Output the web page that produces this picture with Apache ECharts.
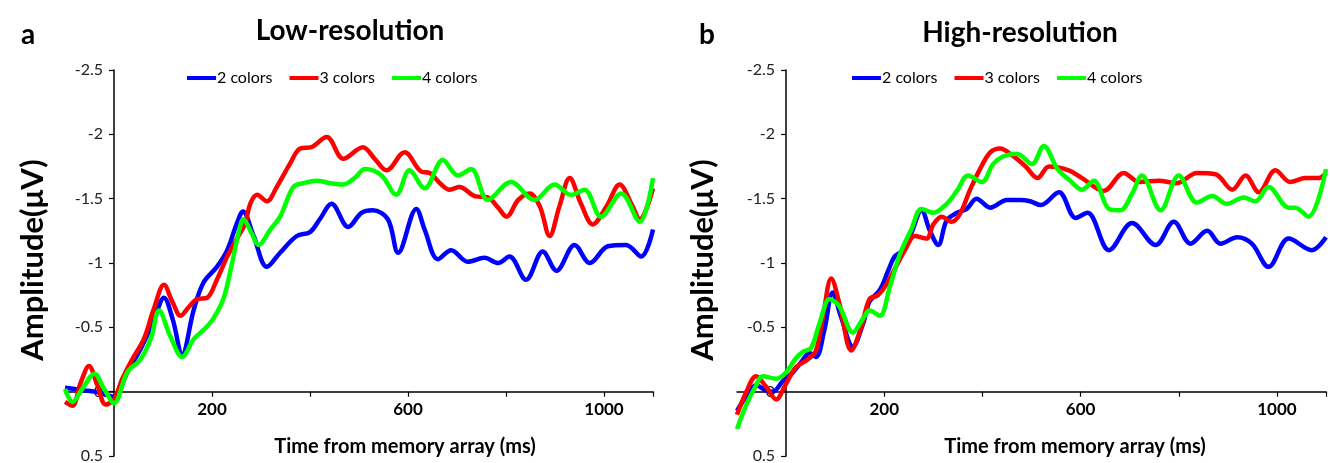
<!DOCTYPE html>
<html>
<head>
<meta charset="utf-8">
<script src="https://cdn.jsdelivr.net/npm/echarts@6/dist/echarts.min.js"></script>
<style>
  html, body { margin: 0; padding: 0; background: #fff; }
  #chart { width: 1330px; height: 463px; }
</style>
</head>
<body>
<div id="chart"></div>
<script>
// Condition names and line colours
const seriesNames = ['2 colors', '3 colors', '4 colors'];
const seriesColors = ['#0000ff', '#ff0000', '#00ff00'];

// Axis ranges and ticks
const timeRange = [-100, 1100];
const ampRange = [-2.5, 0.5];
const ampStep = 0.5;
const ampLabels = [-2.5, -2, -1.5, -1, -0.5, 0, 0.5];
const xTickValues = [200, 400, 600, 800, 1000, 1100];
const xLabelValues = [200, 600, 1000];

// Panel a: low-resolution, [time (ms), amplitude (µV)]
const lowTwo = [[-100,-0.03],[-80,-0.02],[-60,-0.01],[-40,0.0],[-20,0.02],[0,0.04],[27,-0.15],[54,-0.33],[80,-0.54],[102,-0.73],[120,-0.56],[139,-0.29],[163,-0.64],[183,-0.85],[210,-0.97],[231,-1.1],[251,-1.31],[263,-1.40],[285,-1.21],[312,-0.97],[339,-1.08],[373,-1.21],[400,-1.24],[420,-1.34],[444,-1.46],[478,-1.28],[505,-1.39],[528,-1.41],[559,-1.34],[580,-1.08],[617,-1.42],[634,-1.26],[661,-1.03],[688,-1.10],[722,-1.01],[756,-1.04],[784,-1.00],[807,-1.05],[841,-0.87],[875,-1.09],[903,-0.94],[940,-1.14],[971,-1.00],[1008,-1.13],[1045,-1.14],[1076,-1.05],[1100,-1.26]];
const lowThree = [[-100,0.08],[-85,0.11],[-68,-0.07],[-51,-0.20],[-34,-0.05],[-17,0.10],[0,0.06],[17,-0.10],[37,-0.25],[61,-0.41],[81,-0.64],[102,-0.83],[119,-0.70],[136,-0.59],[153,-0.66],[170,-0.72],[190,-0.73],[210,-0.87],[231,-1.05],[251,-1.19],[268,-1.31],[278,-1.46],[292,-1.53],[312,-1.48],[332,-1.59],[359,-1.77],[380,-1.89],[403,-1.90],[434,-1.98],[468,-1.81],[508,-1.90],[532,-1.81],[556,-1.72],[593,-1.86],[627,-1.71],[644,-1.70],[668,-1.61],[685,-1.57],[705,-1.59],[736,-1.52],[763,-1.51],[784,-1.43],[801,-1.36],[825,-1.49],[848,-1.54],[869,-1.44],[889,-1.21],[909,-1.44],[930,-1.66],[953,-1.46],[977,-1.30],[1005,-1.44],[1032,-1.61],[1056,-1.46],[1073,-1.34],[1100,-1.58]];
const lowFour = [[-100,-0.02],[-85,0.08],[-65,-0.02],[-40,-0.14],[-20,-0.02],[0,0.09],[27,-0.15],[54,-0.25],[75,-0.41],[92,-0.63],[115,-0.43],[139,-0.27],[163,-0.41],[183,-0.48],[203,-0.57],[224,-0.73],[241,-1.00],[254,-1.23],[264,-1.34],[281,-1.23],[295,-1.14],[319,-1.26],[339,-1.36],[366,-1.59],[386,-1.62],[414,-1.64],[441,-1.62],[468,-1.61],[491,-1.66],[512,-1.73],[546,-1.68],[576,-1.53],[603,-1.72],[634,-1.58],[671,-1.80],[702,-1.68],[729,-1.73],[763,-1.49],[810,-1.63],[858,-1.49],[899,-1.61],[933,-1.53],[960,-1.57],[994,-1.36],[1035,-1.54],[1073,-1.32],[1100,-1.66]];

// Panel b: high-resolution, [time (ms), amplitude (µV)]
const highTwo = [[-100,0.15],[-82,0.04],[-61,-0.05],[-41,-0.01],[-27,0.0],[-7,-0.08],[14,-0.15],[31,-0.23],[48,-0.30],[61,-0.27],[78,-0.48],[95,-0.77],[112,-0.58],[136,-0.35],[157,-0.53],[170,-0.70],[191,-0.79],[208,-0.94],[221,-1.05],[238,-1.10],[255,-1.23],[276,-1.41],[293,-1.25],[310,-1.14],[327,-1.33],[348,-1.39],[368,-1.42],[388,-1.50],[416,-1.43],[450,-1.49],[477,-1.49],[497,-1.48],[519,-1.45],[556,-1.55],[590,-1.35],[614,-1.39],[658,-1.10],[705,-1.31],[753,-1.14],[790,-1.32],[824,-1.15],[858,-1.25],[885,-1.15],[919,-1.20],[949,-1.15],[983,-0.97],[1024,-1.19],[1071,-1.10],[1100,-1.20]];
const highThree = [[-100,0.18],[-82,0.01],[-61,-0.12],[-41,-0.04],[-20,0.06],[-3,-0.04],[20,-0.19],[44,-0.25],[61,-0.32],[75,-0.58],[92,-0.88],[109,-0.68],[133,-0.32],[153,-0.50],[170,-0.72],[187,-0.75],[204,-0.83],[225,-0.98],[245,-1.12],[262,-1.21],[286,-1.19],[300,-1.30],[317,-1.36],[337,-1.32],[354,-1.38],[375,-1.57],[395,-1.73],[416,-1.86],[436,-1.89],[463,-1.83],[488,-1.75],[512,-1.66],[536,-1.75],[576,-1.72],[603,-1.66],[647,-1.56],[688,-1.70],[719,-1.63],[759,-1.64],[796,-1.62],[837,-1.70],[875,-1.69],[909,-1.57],[936,-1.68],[963,-1.55],[997,-1.72],[1027,-1.63],[1058,-1.66],[1085,-1.66],[1100,-1.70]];
const highFour = [[-100,0.29],[-82,0.11],[-61,-0.05],[-48,-0.12],[-20,-0.10],[0,-0.15],[20,-0.26],[34,-0.31],[51,-0.34],[68,-0.53],[89,-0.72],[109,-0.66],[136,-0.46],[157,-0.57],[170,-0.63],[191,-0.59],[211,-0.81],[232,-1.07],[255,-1.26],[276,-1.42],[300,-1.39],[327,-1.46],[348,-1.56],[371,-1.68],[399,-1.63],[422,-1.77],[443,-1.83],[470,-1.85],[501,-1.77],[525,-1.91],[553,-1.73],[576,-1.65],[603,-1.57],[627,-1.64],[658,-1.42],[681,-1.41],[705,-1.54],[725,-1.68],[763,-1.41],[800,-1.68],[837,-1.47],[868,-1.52],[898,-1.46],[932,-1.51],[956,-1.48],[983,-1.59],[1024,-1.43],[1037,-1.43],[1064,-1.36],[1100,-1.73]];

const FONT = 'Lato, "Open Sans", sans-serif';

// Plot boxes of the two panels
const panels = [{ left: 65, width: 588 }, { left: 737, width: 589 }];
const plotTop = 70, plotHeight = 386;
// The time axis sits on the zero line of the amplitude axis
const timeAxisHeight = plotHeight * (0 - ampRange[0]) / (ampRange[1] - ampRange[0]);

const grids = [];
panels.forEach(p => grids.push({ left: p.left, width: p.width, top: plotTop, height: plotHeight, containLabel: false, outerBoundsMode: 'none' }));
panels.forEach(p => grids.push({ left: p.left, width: p.width, top: plotTop, height: timeAxisHeight, containLabel: false, outerBoundsMode: 'none' }));

function hiddenAxis(gridIndex, range) {
  return { type: 'value', gridIndex: gridIndex, min: range[0], max: range[1], show: false };
}

function timeAxis(gridIndex) {
  return {
    type: 'value', gridIndex: gridIndex, min: timeRange[0], max: timeRange[1], position: 'bottom',
    axisLine: { onZero: false, lineStyle: { color: '#000', width: 1.5 } },
    axisTick: { show: true, customValues: xTickValues, length: 5, lineStyle: { color: '#000', width: 1.2 } },
    axisLabel: {
      customValues: xLabelValues, formatter: v => String(v),
      fontFamily: FONT, fontWeight: 'bold', fontSize: 17, color: '#000', margin: 9
    },
    splitLine: { show: false }
  };
}

function ampAxis(gridIndex) {
  return {
    type: 'value', gridIndex: gridIndex, min: ampRange[0], max: ampRange[1], interval: ampStep, inverse: true,
    z: 3,
    axisLine: { show: true, onZero: false, lineStyle: { color: '#000', width: 1.5 } },
    axisTick: { show: true, length: 5, lineStyle: { color: '#000', width: 1.2 } },
    axisLabel: {
      customValues: ampLabels, formatter: v => String(v),
      hideOverlap: false, showMinLabel: true, showMaxLabel: true,
      fontFamily: FONT, fontSize: 16, color: '#222', margin: 11
    },
    splitLine: { show: false }
  };
}

function lineSeries(name, color, data, axisIndex) {
  return {
    name: name, type: 'line', data: data,
    xAxisIndex: axisIndex, yAxisIndex: axisIndex,
    smooth: 0.35, showSymbol: false, symbol: 'none',
    lineStyle: { color: color, width: 4.5 },
    itemStyle: { color: color },
    emphasis: { disabled: true }
  };
}

function legendAt(left) {
  return {
    left: left, top: 65, data: seriesNames, icon: 'rect',
    itemWidth: 29, itemHeight: 4, itemGap: 17, selectedMode: false,
    textStyle: { fontFamily: FONT, fontSize: 16, color: '#000', padding: [0, 0, 0, -4] }
  };
}

function text(str, x, y, font, extra) {
  return Object.assign({
    type: 'text', x: x, y: y, silent: true,
    style: { text: str, font: font, fill: '#000', align: 'center', verticalAlign: 'middle' }
  }, extra || {});
}

const chart = echarts.init(document.getElementById('chart'), null, { renderer: 'canvas' });

chart.setOption({
  animation: false,
  backgroundColor: '#fff',
  grid: grids,
  // 0,1: data axes of each panel (time hidden); 2,3: visible time axes on the zero line
  xAxis: [hiddenAxis(0, timeRange), hiddenAxis(1, timeRange), timeAxis(2), timeAxis(3)],
  yAxis: [ampAxis(0), ampAxis(1), hiddenAxis(2, [0, 1]), hiddenAxis(3, [0, 1])],
  legend: [legendAt(182), legendAt(847)],
  series: [
    lineSeries(seriesNames[0], seriesColors[0], lowTwo, 0),
    lineSeries(seriesNames[1], seriesColors[1], lowThree, 0),
    lineSeries(seriesNames[2], seriesColors[2], lowFour, 0),
    lineSeries(seriesNames[0], seriesColors[0], highTwo, 1),
    lineSeries(seriesNames[1], seriesColors[1], highThree, 1),
    lineSeries(seriesNames[2], seriesColors[2], highFour, 1)
  ],
  graphic: [
    text('a', 28, 35, 'bold 28px ' + FONT),
    text('Low-resolution', 350, 31, 'bold 28px ' + FONT),
    text('b', 707, 35, 'bold 28px ' + FONT),
    text('High-resolution', 1020, 33, 'bold 28px ' + FONT),
    text('Amplitude(μV)', 33, 260, 'bold 31px ' + FONT, { rotation: Math.PI / 2 }),
    text('Amplitude(μV)', 703, 260, 'bold 31px ' + FONT, { rotation: Math.PI / 2 }),
    text('Time from memory array (ms)', 405, 447, 'bold 20px ' + FONT),
    text('Time from memory array (ms)', 1075, 447, 'bold 20px ' + FONT)
  ]
});

// The amplitude axis crosses at time 0: shift it from the grid edge to that position.
const yOffsets = [];
[0, 1].forEach(i => {
  const zeroX = chart.convertToPixel({ xAxisIndex: i }, 0);
  const leftX = chart.convertToPixel({ xAxisIndex: i }, timeRange[0]);
  yOffsets.push({ offset: leftX - zeroX });
});
chart.setOption({ yAxis: yOffsets });
</script>
</body>
</html>
